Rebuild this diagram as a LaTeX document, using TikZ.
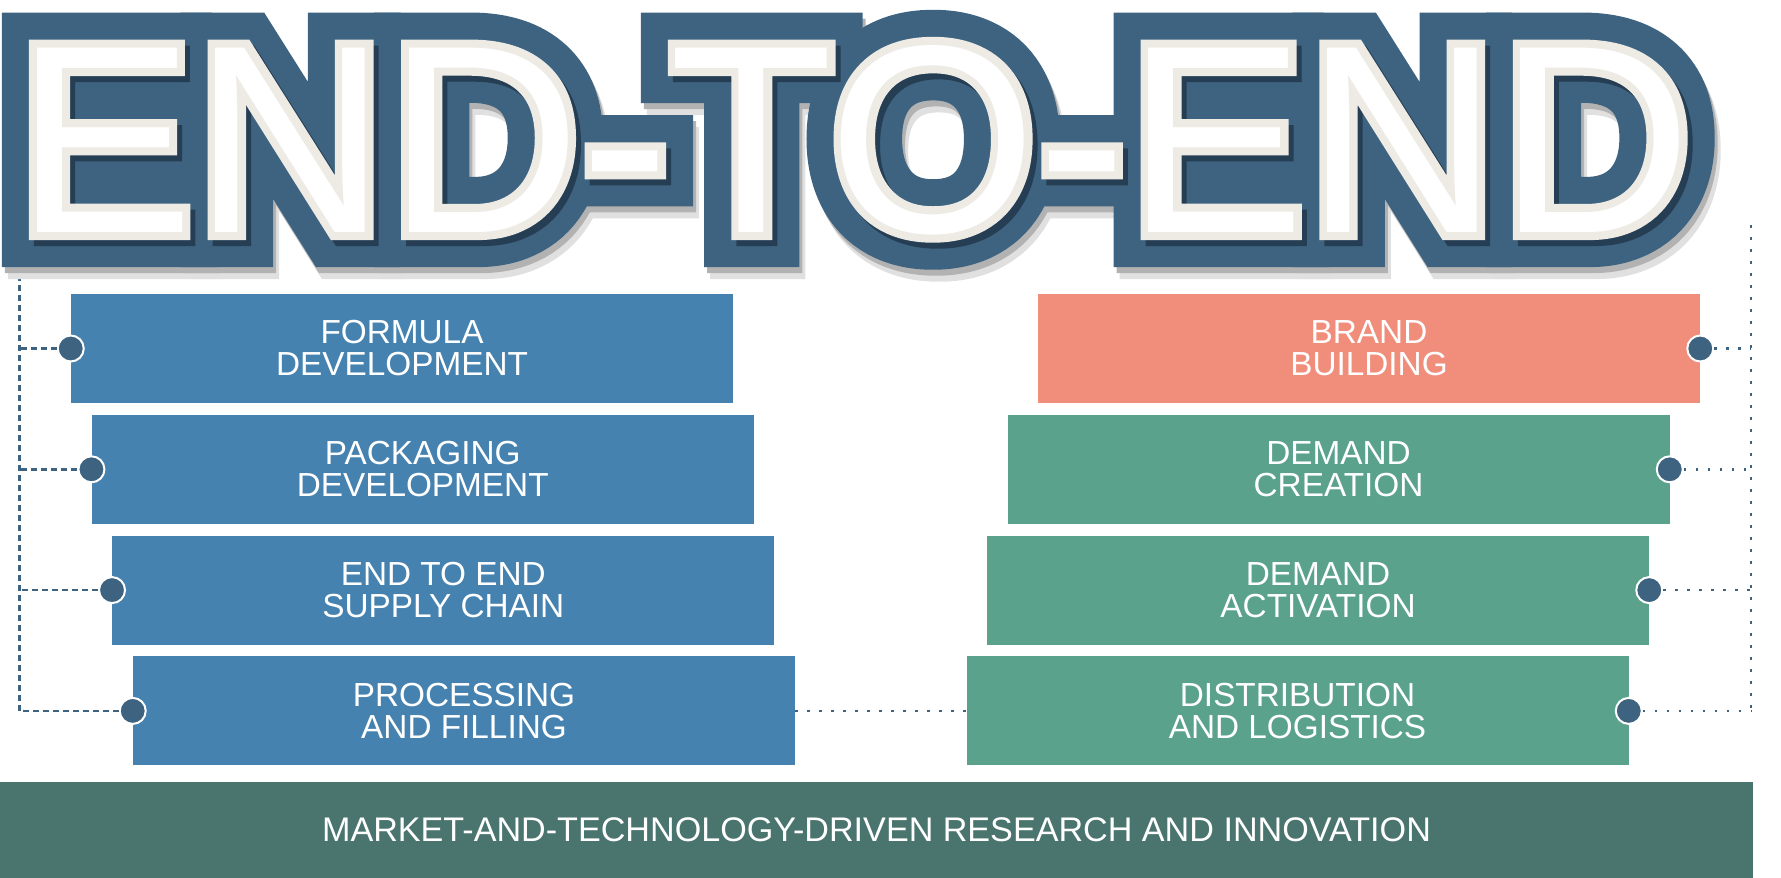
\documentclass[tikz,border=0pt]{standalone}
\usepackage{fontspec}
\setmainfont{Liberation Sans}
\newfontfamily\titlefont{Liberation Sans}
\newfontfamily\titleslab[FakeBold=26.1]{Liberation Sans}
\newfontfamily\titleedge[FakeBold=6]{Liberation Sans}
\usepackage{tikz}

\definecolor{slabblue}{RGB}{62,99,128}
\definecolor{slabdark}{RGB}{38,62,84}
\definecolor{cream}{RGB}{238,235,229}
\definecolor{leftblue}{RGB}{70,130,175}
\definecolor{brandred}{RGB}{240,141,123}
\definecolor{demandgreen}{RGB}{91,162,140}
\definecolor{barteal}{RGB}{74,116,110}
\definecolor{dotblue}{RGB}{61,99,128}

\newcommand\bigtitle{\fontsize{201pt}{201pt}\selectfont END-TO-END}

\tikzset{
  titlelayer/.style={anchor=base west, inner sep=0pt, outer sep=0pt, miter limit=1.5},
  tab/.style={rectangle, minimum width=496.5pt, minimum height=81.75pt, inner sep=0pt,
    text=white, align=center, font=\fontsize{25pt}{24pt}\selectfont},
  knob/.style={circle, fill=dotblue, draw=white, line width=1.5pt, minimum size=19.5pt, inner sep=0pt},
  leftdash/.style={dotblue, line width=1.8pt, dash pattern=on 4.5pt off 3pt},
  rightdot/.style={dotblue, line width=2pt, dash pattern=on 2pt off 7pt},
}

\begin{document}
\begin{tikzpicture}[x=0.75pt,y=0.75pt,yscale=-1,xscale=1]
\useasboundingbox (0,0) rectangle (1781,878);

%Shape: Rectangle (left column)
\node[tab, fill=leftblue] (fd) at (402,348.5) {FORMULA\\DEVELOPMENT};
\node[tab, fill=leftblue] (pd) at (422.7,469.3) {PACKAGING\\DEVELOPMENT};
\node[tab, fill=leftblue] (esc) at (443.3,590.1) {END TO END\\SUPPLY CHAIN};
\node[tab, fill=leftblue] (pf) at (464,710.9) {PROCESSING\\AND FILLING};

%Shape: Rectangle (right column)
\node[tab, fill=brandred] (bb) at (1369,348.5) {BRAND\\BUILDING};
\node[tab, fill=demandgreen] (dc) at (1338.5,469.3) {DEMAND\\CREATION};
\node[tab, fill=demandgreen] (da) at (1318,590.1) {DEMAND\\ACTIVATION};
\node[tab, fill=demandgreen] (dl) at (1297.5,710.9) {DISTRIBUTION\\AND LOGISTICS};

%Shape: Rectangle (base bar)
\node[rectangle, fill=barteal, minimum width=1314.75pt, minimum height=72pt, inner sep=0pt,
  text=white, font=\fontsize{25.6pt}{24pt}\selectfont] (ri) at (876.5,830)
  {MARKET-AND-TECHNOLOGY-DRIVEN RESEARCH AND INNOVATION};

%Shape: Circle
\node[knob] (kfd) at (fd.west) {};
\node[knob] (kpd) at (pd.west) {};
\node[knob] (kesc) at (esc.west) {};
\node[knob] (kpf) at (pf.west) {};
\node[knob] (kbb) at (bb.east) {};
\node[knob] (kdc) at (dc.east) {};
\node[knob] (kda) at (da.east) {};
\node[knob] (kdl) at (dl.east) {};

%Straight Lines
\coordinate (ltop) at (19.5,255);
\coordinate (rtop) at (1751,225);
\draw[leftdash] (ltop) -- (ltop |- kpf);
\draw[leftdash] (kfd.west) -- (kfd -| ltop);
\draw[leftdash] (kpd.west) -- (kpd -| ltop);
\draw[leftdash] (kesc.west) -- (kesc -| ltop);
\draw[leftdash] (kpf.west) -- (kpf -| ltop);

\draw[rightdot] (rtop) -- (rtop |- kdl);
\draw[rightdot] (kbb.east) -- (kbb -| rtop);
\draw[rightdot] (kdc.east) -- (kdc -| rtop);
\draw[rightdot] (kda.east) -- (kda -| rtop);
\draw[rightdot] (kdl.east) -- (kdl -| rtop);

\draw[rightdot] (pf.east) -- (dl.west);

% Text Node (title, drawn in layers)
\node[titlelayer, text=black!12] (tshadow) at (21,244) {\titleslab\bigtitle};
\node[titlelayer, text=black!30] (tshade) at (18,238) {\titleslab\bigtitle};
\node[titlelayer, text=slabblue] (tslab) at (15,232) {\titleslab\bigtitle};
\node[titlelayer, text=slabdark] (tdrop) at (20,238) {\titleedge\bigtitle};
\node[titlelayer, text=cream] (tline) at (15,232) {\titleedge\bigtitle};
\node[titlelayer, text=white] (tface) at (15,232) {\titlefont\bigtitle};

\end{tikzpicture}
\end{document}
